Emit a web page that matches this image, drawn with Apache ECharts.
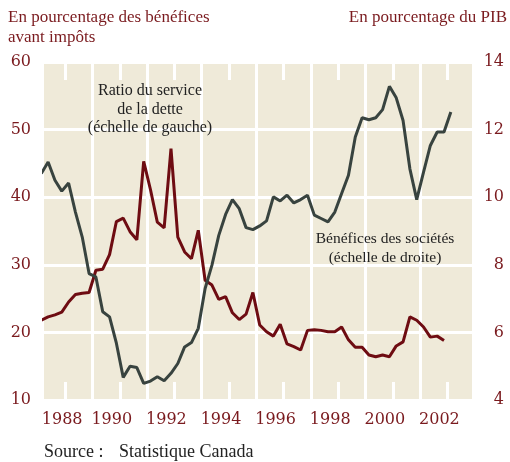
<!DOCTYPE html>
<html><head><meta charset="utf-8">
<script src="https://cdn.jsdelivr.net/npm/echarts@6/dist/echarts.min.js"></script>
<style>html,body{margin:0;padding:0;background:#fff}#c{width:510px;height:462px}</style>
</head><body><div id="c"></div>
<script>
// Quarterly data, first point = 1987 Q1
const startYear = 1987;
const debtRatio = [21.8,22.3,22.6,23.0, 24.5,25.6,25.8,25.9, 29.2,29.35,31.5,36.4, 36.9,34.9,33.7,45.3,
  41.1,36.3,35.45,47.2, 34.1,31.9,30.9,35.1, 27.7,27.0,24.9,25.3, 22.9,21.9,22.7,25.9,
  21.1,20.1,19.45,21.2, 18.3,17.9,17.4,20.3, 20.4,20.3,20.1,20.1, 20.8,18.9,17.8,17.8,
  16.65,16.4,16.65,16.4, 18.0,18.6,22.3,21.8, 20.8,19.3,19.45,18.8];
const profits = [10.70,11.04,10.50,10.18, 10.42,9.56,8.82,7.74, 7.64,6.61,6.46,5.68, 4.67,5.00,4.96,4.49,
  4.56,4.69,4.57,4.79, 5.08,5.57,5.70,6.12, 7.30,7.99,8.87,9.49, 9.93,9.66,9.10,9.04,
  9.15,9.30,10.01,9.89, 10.06,9.83,9.93,10.06, 9.47,9.37,9.27,9.56, 10.11,10.65,11.78,12.35,
  12.29,12.35,12.59,13.28, 12.94,12.27,10.84,9.93, 10.74,11.53,11.93,11.93, 12.52];
const yearLabels = [1988,1990,1992,1994,1996,1998,2000,2002];
const oddYears = [1989,1991,1993,1995,1997,1999,2001];

const toXY = arr => arr.map((v,i) => [startYear + (i + 0.5) / 4, v]);
const RED = '#6E0C12', GRAY = '#38433F', LBL = '#7A1A1E', TXT = '#222222';
const SERIF = '"Liberation Serif", "Times New Roman", serif';
const NUM = '"DejaVu Serif", serif';

const chart = echarts.init(document.getElementById('c'), null, {renderer:'canvas'});
const xCommon = {
  type:'value', min:1987.224, max:2002.9,
  axisLine:{show:false}, splitLine:{show:false},
  axisTick:{show:true, inside:true, length:18, customValues: yearLabels, lineStyle:{color:'#fff', width:3}}
};
chart.setOption({
  animation:false,
  grid:{left:44, right:38, top:62, bottom:62, show:true, backgroundColor:'#EFEAD9', borderWidth:0},
  xAxis:[
    Object.assign({}, xCommon, {position:'bottom',
      axisLabel:{show:true, customValues: yearLabels, color:LBL, fontFamily:NUM, fontSize:16, margin:12,
        formatter: v => v === 1988 ? '{f|' + v + '}' : '{n|' + v + '}',
        rich:{ f:{padding:[0,6,0,0], color:LBL, fontFamily:NUM, fontSize:16},
               n:{padding:[0,16,0,0], color:LBL, fontFamily:NUM, fontSize:16} } } }),
    Object.assign({}, xCommon, {position:'top', axisLabel:{show:false}})
  ],
  yAxis:[
    {type:'value', min:10, max:60, interval:10, position:'left',
      axisLine:{show:false}, axisTick:{show:false},
      axisLabel:{color:LBL, fontFamily:NUM, fontSize:16, margin:13},
      splitLine:{show:true, lineStyle:{color:'#fff', width:3}}},
    {type:'value', min:4, max:14, interval:2, position:'right',
      axisLine:{show:false}, axisTick:{show:false},
      axisLabel:{color:LBL, fontFamily:NUM, fontSize:16, margin:32, align:'right'},
      splitLine:{show:false}}
  ],
  series:[
    {type:'line', name:'grid', data: toXY(debtRatio), xAxisIndex:0, yAxisIndex:0, z:1,
      symbol:'none', lineStyle:{opacity:0}, silent:true,
      markLine:{silent:true, z:1, symbol:['none','none'], label:{show:false},
        lineStyle:{color:'#fff', width:3, type:'solid'},
        emphasis:{disabled:true},
        data: oddYears.map(y => ({xAxis:y}))}},
    {type:'line', name:'Ratio du service de la dette', data: toXY(debtRatio), xAxisIndex:0, yAxisIndex:0,
      symbol:'none', clip:false, z:6, lineStyle:{color:RED, width:3}},
    {type:'line', name:'Bénéfices des sociétés', data: toXY(profits), xAxisIndex:0, yAxisIndex:1,
      symbol:'none', clip:false, z:6, lineStyle:{color:GRAY, width:3}}
  ],
  graphic:[
    {type:'text', left:8, top:8, z:10, style:{text:'En pourcentage des bénéfices\navant impôts', fill:LBL,
      font:'17px ' + SERIF, lineHeight:20}},
    {type:'text', right:3, top:8, z:10, style:{text:'En pourcentage du PIB', fill:LBL, font:'17px ' + SERIF, lineHeight:20}},
    {type:'text', x:150, y:82, z:10, style:{text:'Ratio du service\nde la dette\n(échelle de gauche)', fill:TXT,
      font:'16px ' + SERIF, lineHeight:18.5, align:'center'}},
    {type:'text', x:385, y:229, z:10, style:{text:'Bénéfices des sociétés\n(échelle de droite)', fill:TXT,
      font:'15.5px ' + SERIF, lineHeight:19, align:'center'}},
    {type:'text', x:44, y:443, z:10, style:{text:'Source :', fill:TXT, font:'18px ' + SERIF}},
    {type:'text', x:119, y:443, z:10, style:{text:'Statistique Canada', fill:TXT, font:'18px ' + SERIF}}
  ]
});
</script></body></html>
